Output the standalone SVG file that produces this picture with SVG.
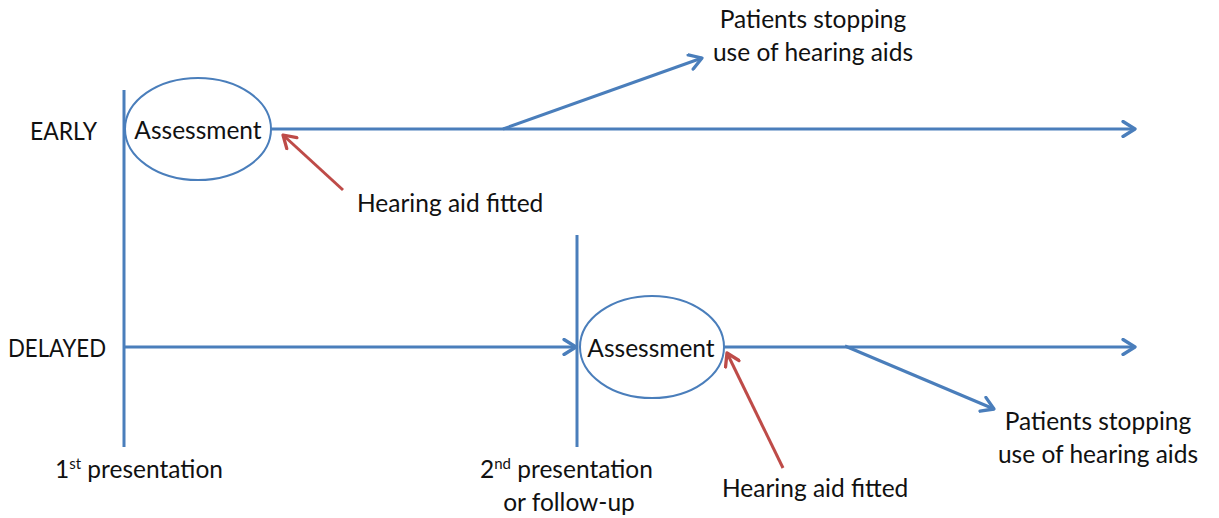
<svg xmlns="http://www.w3.org/2000/svg" width="1219" height="518" viewBox="0 0 1219 518">
<style>
.t{font-family:Lato,"Open Sans","Liberation Sans",sans-serif;font-size:24.5px;fill:#111}
.b{stroke:#4A7EBB;stroke-width:3;fill:none}
.r{stroke:#BE4B48;stroke-width:3;fill:none}
.e{stroke:#4A7EBB;stroke-width:2;fill:#fff}
</style>
<defs>
<marker id="ab" viewBox="0 0 12 12" refX="10" refY="6" markerWidth="6" markerHeight="6" orient="auto" markerUnits="strokeWidth">
<path d="M2,1 L10,6 L2,11" fill="none" stroke="#4A7EBB" stroke-width="2.2" stroke-linecap="round" stroke-linejoin="round"/>
</marker>
<marker id="ar" viewBox="0 0 12 12" refX="10" refY="6" markerWidth="6" markerHeight="6" orient="auto" markerUnits="strokeWidth">
<path d="M2,1 L10,6 L2,11" fill="none" stroke="#BE4B48" stroke-width="2.2" stroke-linecap="round" stroke-linejoin="round"/>
</marker>
</defs>
<g id="connectors">
<line class="b" x1="124" y1="90" x2="124" y2="447"/>
<line class="b" x1="577" y1="235" x2="577" y2="447"/>
<line class="b" x1="271" y1="129" x2="1135" y2="129" marker-end="url(#ab)"/>
<line class="b" x1="503" y1="129" x2="702" y2="58" marker-end="url(#ab)"/>
<line class="b" x1="124" y1="347" x2="576" y2="347" marker-end="url(#ab)"/>
<line class="b" x1="724" y1="347" x2="1135" y2="347" marker-end="url(#ab)"/>
<line class="b" x1="845" y1="346" x2="994" y2="409" marker-end="url(#ab)"/>
<line class="r" x1="343" y1="190" x2="283" y2="135" marker-end="url(#ar)"/>
<line class="r" x1="783" y1="468" x2="727" y2="353" marker-end="url(#ar)"/>
</g>
<g id="assessment-early">
<ellipse class="e" cx="198" cy="129" rx="73" ry="51"/>
<text class="t" x="198" y="139" text-anchor="middle">Assessment</text>
</g>
<g id="assessment-delayed">
<ellipse class="e" cx="652" cy="347" rx="72" ry="51"/>
<text class="t" x="651" y="357" text-anchor="middle">Assessment</text>
</g>
<g id="labels">
<text class="t" x="30" y="140" textLength="67" lengthAdjust="spacingAndGlyphs">EARLY</text>
<text class="t" x="8" y="357" textLength="98" lengthAdjust="spacingAndGlyphs">DELAYED</text>
<text class="t" x="813" y="28" text-anchor="middle">Patients stopping</text>
<text class="t" x="813" y="61" text-anchor="middle">use of hearing aids</text>
<text class="t" x="357" y="212">Hearing aid fitted</text>
<text class="t" x="1098" y="430" text-anchor="middle">Patients stopping</text>
<text class="t" x="1098" y="463" text-anchor="middle">use of hearing aids</text>
<text class="t" x="722" y="497">Hearing aid fitted</text>
<text class="t" x="55" y="478">1<tspan font-size="15" dy="-9">st</tspan><tspan dy="9"> presentation</tspan></text>
<text class="t" x="480" y="478">2<tspan font-size="15" dy="-9">nd</tspan><tspan dy="9"> presentation</tspan></text>
<text class="t" x="569" y="511" text-anchor="middle">or follow-up</text>
</g>
</svg>
